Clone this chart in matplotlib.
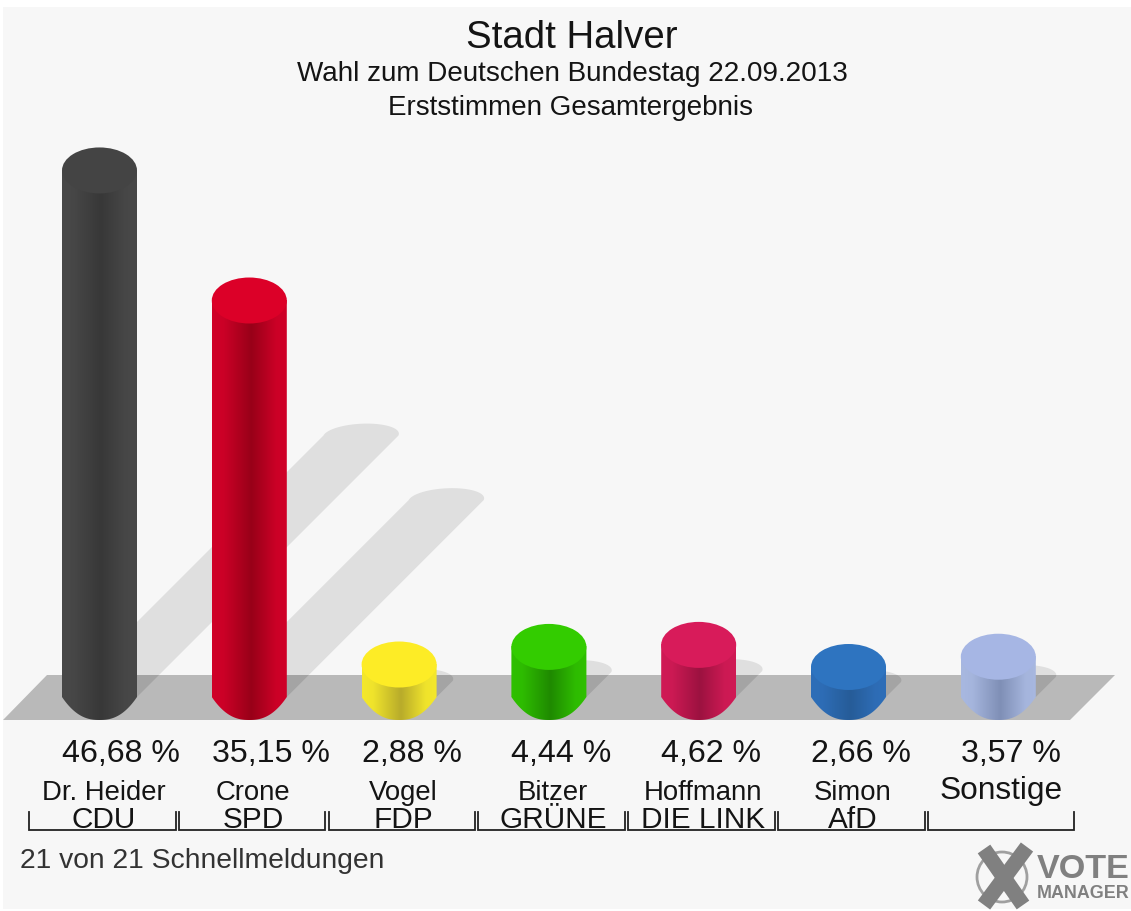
import numpy as np
import matplotlib
matplotlib.use('Agg')
import matplotlib.pyplot as plt
from matplotlib.colors import to_rgb
from matplotlib.patches import Ellipse, PathPatch, Polygon, Circle, Rectangle
from matplotlib.path import Path
from matplotlib.transforms import Affine2D

plt.rcParams['font.family'] = ['Liberation Sans', 'DejaVu Sans']

kandidaten = ['Dr. Heider', 'Crone', 'Vogel', 'Bitzer', 'Hoffmann', 'Simon', 'Sonstige']
parteien = ['CDU', 'SPD', 'FDP', 'GRÜNE', 'DIE LINK', 'AfD', '']
prozent = [46.68, 35.15, 2.88, 4.44, 4.62, 2.66, 3.57]
prozent_text = ['46,68 %', '35,15 %', '2,88 %', '4,44 %', '4,62 %', '2,66 %', '3,57 %']

farbe_deckel = ['#444444', '#dc0028', '#fdec26', '#33cc00', '#d81b5a', '#2e74c0', '#a6b6e4']
farbe_rand = ['#484848', '#d00028', '#f4e82c', '#2fc000', '#d01a55', '#2e6eb8', '#a8b8e0']
farbe_dunkel = ['#383838', '#980018', '#b8ab2a', '#1f8a00', '#9c1240', '#265c98', '#7f8fb6']

# Geometrie der Grafik in Pixeln
PX_X = 149.8
PX_Y = 11.28
X0 = 99.5
Y0 = 697
BREITE = 75 / PX_X
HOEHE = 46 / PX_Y

fig = plt.figure(figsize=(11.31, 9.11), dpi=100, facecolor='white')
ax = fig.add_axes([0, 0, 1, 1])
ax.axis('off')

# Koordinaten von oben links, fuer Texte und Deko
px = Affine2D().scale(1, -1).translate(0, 911)


def saeulen_umriss(i, wert):
    t = np.radians(np.linspace(0, 180, 60))
    oben = np.column_stack([i + BREITE / 2 * np.cos(t), wert + HOEHE / 2 * np.sin(t)])
    # unten laeuft die Saeule etwas spitzer zu als eine Ellipse
    s = np.linspace(-1, 1, 60)
    unten = np.column_stack([i + BREITE / 2 * s, -HOEHE / 2 * (1 - np.abs(s) ** 2.4)])
    return np.vstack([oben, unten, oben[:1]])


def schatten_umriss(i, wert):
    # Schatten faellt im 45 Grad Winkel nach rechts oben
    dx = wert * 5.6 / PX_X
    dy = wert * 5.6 / PX_Y
    t = np.radians(np.linspace(0, 180, 60))
    # Kappe leicht geschert, der hoechste Punkt liegt rechts der Mitte
    bogen = np.column_stack([i + dx + (37.5 * np.cos(t) + 6 * np.sin(t)) / PX_X,
                             dy + 12 / PX_Y * np.sin(t)])
    return np.vstack([[i + BREITE / 2, 0], bogen, [i - BREITE / 2, 0]])


ax.add_patch(Rectangle((3, 7), 1128, 902, transform=px, fc='#f7f7f7', ec='none', zorder=0))

for i, wert in enumerate(prozent):
    ax.add_patch(Polygon(schatten_umriss(i, wert), fc='#dfdfdf', ec='none', zorder=1))

boden = Polygon([(3, 720), (47, 675), (1115, 675), (1070, 720)], transform=px,
                fc='#b9b9b9', ec='none', zorder=2)
ax.add_patch(boden)

for i, wert in enumerate(prozent):
    s = Polygon(schatten_umriss(i, wert), fc='#a4a4a4', ec='none', zorder=3)
    ax.add_patch(s)
    s.set_clip_path(boden)

for i, wert in enumerate(prozent):
    clip = PathPatch(Path(saeulen_umriss(i, wert)), fc='none', ec='none', zorder=4)
    ax.add_patch(clip)

    pos = np.linspace(0, 1, 200)
    rand = np.array(to_rgb(farbe_rand[i]))
    dunkel = np.array(to_rgb(farbe_dunkel[i]))
    mix = np.interp(pos, [0, 0.15, 0.52, 0.85, 1], [0, 0.08, 1, 0.08, 0])
    verlauf = rand + (dunkel - rand) * mix[:, None]
    bild = ax.imshow(verlauf[None, :, :], extent=[i - BREITE / 2, i + BREITE / 2, -HOEHE / 2, wert],
                     aspect='auto', interpolation='bilinear', zorder=4)
    bild.set_clip_path(clip)
    ax.add_patch(Ellipse((i, wert), BREITE, HOEHE, fc=farbe_deckel[i], ec='none', zorder=5))

ax.set_xlim(-X0 / PX_X, (1131 - X0) / PX_X)
ax.set_ylim((Y0 - 911) / PX_Y, Y0 / PX_Y)

# Titel
farbe_text = '#141414'
ax.text(572, 48, 'Stadt Halver', transform=px, ha='center', fontsize=27.6, color=farbe_text)
ax.text(572, 81, 'Wahl zum Deutschen Bundestag 22.09.2013', transform=px, ha='center', fontsize=20.1, color=farbe_text)
ax.text(570, 115, 'Erststimmen Gesamtergebnis', transform=px, ha='center', fontsize=20, color=farbe_text)

# Beschriftung unter den Saeulen
for i in range(len(prozent)):
    mitte = X0 + i * PX_X
    ax.text(mitte - 37.5, 762, prozent_text[i], transform=px, ha='left', fontsize=23.1, color=farbe_text)
    if parteien[i]:
        ax.text(mitte + 4, 800, kandidaten[i], transform=px, ha='center', fontsize=19.8, color=farbe_text)
        ax.text(mitte + 4, 828, parteien[i], transform=px, ha='center', fontsize=21.4, color=farbe_text)
    else:
        ax.text(mitte + 3, 799, kandidaten[i], transform=px, ha='center', fontsize=22.8, color=farbe_text)
    links = 29 + i * PX_X
    rechts = 175.5 + i * PX_X
    ax.plot([links, links, rechts, rechts], [812, 830, 830, 812], transform=px,
            color='#222222', lw=1.3, solid_joinstyle='miter')

ax.text(20, 868, '21 von 21 Schnellmeldungen', transform=px, ha='left', fontsize=20.3, color='#333333')

# Logo
grau = '#808080'
ax.add_patch(Circle((1002, 877), 25, transform=px, fc='none', ec='#a0a0a0', lw=2, zorder=6))
ax.plot([984, 1023], [849, 905], transform=px, color=grau, lw=11, solid_capstyle='butt', zorder=7)
ax.plot([1027, 984], [847, 905], transform=px, color=grau, lw=11, solid_capstyle='butt', zorder=7)
ax.text(1037, 878, 'VOTE', transform=px, ha='left', fontsize=24.6, fontweight='bold', color=grau)
ax.text(1037, 898, 'MANAGER', transform=px, ha='left', fontsize=12.9, fontweight='bold', color=grau)

fig.savefig('out.png', dpi=100, facecolor='white')
